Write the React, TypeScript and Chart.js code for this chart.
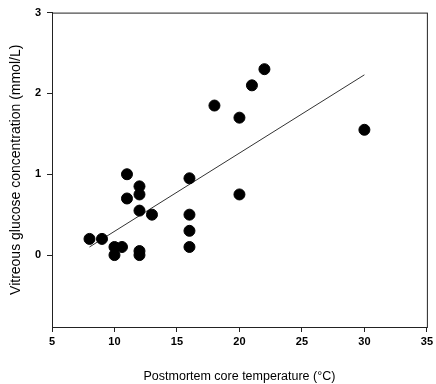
import React, { useEffect, useRef } from "react";
import { Chart, registerables } from "chart.js";

Chart.register(...registerables);

const tempX = [8, 9, 10, 10, 10.6, 11, 11, 12, 12, 12, 12, 12, 13, 16, 16, 16, 16, 18, 20, 20, 21, 22, 30];
const glucoseY = [0.2, 0.2, 0.1, 0.0, 0.1, 1.0, 0.7, 0.85, 0.75, 0.55, 0.05, 0.0, 0.5, 0.95, 0.5, 0.3, 0.1, 1.85, 1.7, 0.75, 2.1, 2.3, 1.55];
const fitX = [8, 30];
const fitY = [0.1, 2.23];
const xTicks = [5, 10, 15, 20, 25, 30, 35];
const yTicks = [0, 1, 2, 3];

const framePlugin = {
  id: "frame",
  afterDatasetsDraw(chart: any) {
    const { ctx, chartArea } = chart;
    ctx.save();
    ctx.strokeStyle = "#222";
    ctx.lineWidth = 1;
    ctx.strokeRect(chartArea.left + 0.5, chartArea.top + 0.5, chartArea.right - chartArea.left, chartArea.bottom - chartArea.top);
    ctx.restore();
  },
};

export default function App() {
  const ref = useRef<HTMLCanvasElement | null>(null);
  useEffect(() => {
    document.body.style.margin = "0";
    const font = { family: "'Liberation Sans', Arial, sans-serif", size: 11, weight: "bold" as const };
    const chart = new Chart(ref.current as HTMLCanvasElement, {
      type: "scatter",
      data: {
        datasets: [
          {
            type: "scatter",
            data: tempX.map((x, i) => ({ x, y: glucoseY[i] })),
            backgroundColor: "#000",
            borderColor: "#000",
            pointRadius: 5.5,
            pointHoverRadius: 5.5,
          },
          {
            type: "line",
            data: fitX.map((x, i) => ({ x, y: fitY[i] })),
            borderColor: "#333",
            borderWidth: 1,
            pointRadius: 0,
            fill: false,
          } as any,
        ],
      },
      plugins: [framePlugin],
      options: {
        animation: false,
        responsive: false,
        layout: { padding: { top: 12, right: 9, bottom: 0, left: 0 } },
        plugins: { legend: { display: false }, tooltip: { enabled: false } },
        scales: {
          x: {
            type: "linear",
            min: 5,
            max: 35,
            afterBuildTicks: (s: any) => { s.ticks = xTicks.map((v) => ({ value: v })); },
            afterFit: (s: any) => { s.height = 57; },
            grid: { drawOnChartArea: false, drawTicks: true, tickLength: 5, color: "#222" },
            border: { display: true, color: "#222" },
            ticks: { color: "#000", font, padding: 3, maxRotation: 0 },
            title: {
              display: true,
              text: "Postmortem core temperature (°C)",
              color: "#000",
              font: { family: "'Liberation Sans', Arial, sans-serif", size: 12.5 },
              padding: { top: 0, bottom: 0 },
            },
          },
          y: {
            type: "linear",
            min: -0.89,
            max: 3,
            afterBuildTicks: (s: any) => { s.ticks = yTicks.map((v) => ({ value: v })); },
            afterFit: (s: any) => { s.width = 52; },
            grid: { drawOnChartArea: false, drawTicks: true, tickLength: 5, color: "#222" },
            border: { display: true, color: "#222" },
            ticks: { color: "#000", font, padding: 6 },
            title: {
              display: true,
              text: "Vitreous glucose concentration (mmol/L)",
              color: "#000",
              font: { family: "'Liberation Sans', Arial, sans-serif", size: 14 },
              padding: { top: 8, bottom: 0 },
            },
          },
        },
      },
    });
    return () => chart.destroy();
  }, []);
  return (
    <div style={{ width: 436, height: 384 }}>
      <canvas ref={ref} width={436} height={384} style={{ display: "block" }} />
    </div>
  );
}
